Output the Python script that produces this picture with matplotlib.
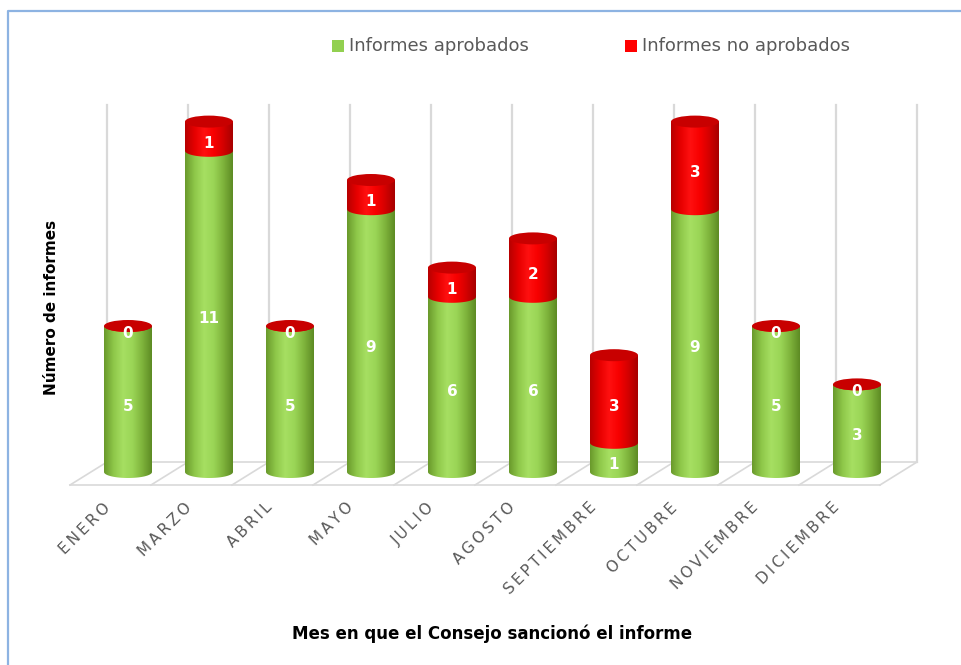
import numpy as np
import matplotlib
matplotlib.use('Agg')
import matplotlib.pyplot as plt
from matplotlib.path import Path
from matplotlib.patches import PathPatch, Ellipse, Rectangle

# Informes sancionados por el Consejo, por mes
meses = ['ENERO', 'MARZO', 'ABRIL', 'MAYO', 'JULIO', 'AGOSTO',
         'SEPTIEMBRE', 'OCTUBRE', 'NOVIEMBRE', 'DICIEMBRE']
aprobados = [5, 11, 5, 9, 6, 6, 1, 9, 5, 3]
no_aprobados = [0, 1, 0, 1, 1, 2, 3, 3, 0, 0]

serie_labels = ['Informes aprobados', 'Informes no aprobados']
ylabel = 'Número de informes'
xlabel = 'Mes en que el Consejo sancionó el informe'

# pixel geometry of the 3D look (1 category = 81 px, 1 informe = 29.2 px)
PX_X, PX_Y = 81.0, 29.2
X0_PX, Y0_PX = 128.0, 472.0
W, H = 961, 665


def ux(p):
    return (p - X0_PX) / PX_X


def uy(q):
    return (Y0_PX - q) / PX_Y


bar_w = 48 / PX_X
ell_h = 12 / PX_Y

green_grad = ['#6a9a2c', '#8fc84a', '#a6df62', '#9ad556', '#7fb43c', '#5e8c24']
red_grad = ['#b80000', '#e60000', '#ff1010', '#f80000', '#d40000', '#a80000']

fig = plt.figure(figsize=(W / 100, H / 100), dpi=100)
ax = fig.add_axes([0, 0, 1, 1])
ax.set_xlim(ux(0), ux(W))
ax.set_ylim(uy(H), uy(0))
ax.axis('off')

# frame of the chart area
ax.plot([ux(8), ux(8), ux(W + 5)], [uy(H + 5), uy(11), uy(11)],
        color='#8db3e2', lw=1.6, solid_capstyle='butt', zorder=1)

# floor and back-wall grid
grid_c = '#d9d9d9'
n = len(meses)
back_x = [ux(107) + k for k in range(n + 1)]
front_x = [ux(70) + k for k in range(n + 1)]
yf, yb, ytop = uy(485), uy(462), uy(105)
ax.plot([front_x[0], front_x[-1]], [yf, yf], color=grid_c, lw=1.2, zorder=2)
ax.plot([back_x[0], back_x[-1]], [yb, yb], color=grid_c, lw=1.2, zorder=2)
for fx, bx in zip(front_x, back_x):
    ax.plot([fx, bx], [yf, yb], color=grid_c, lw=1.2, zorder=2)
    ax.plot([bx, bx], [yb, ytop], color=grid_c, lw=1.6, zorder=2)


def cylinder_side(xc, y0, y1, colors, z):
    t = np.linspace(np.pi, 2 * np.pi, 40)
    verts = [(xc - bar_w / 2, y1), (xc - bar_w / 2, y0)]
    verts += [(xc + bar_w / 2 * np.cos(a), y0 + ell_h / 2 * np.sin(a)) for a in t]
    verts += [(xc + bar_w / 2, y1), (xc - bar_w / 2, y1)]
    codes = [Path.MOVETO] + [Path.LINETO] * (len(verts) - 2) + [Path.CLOSEPOLY]
    patch = PathPatch(Path(verts, codes), facecolor='none', edgecolor='none')
    ax.add_patch(patch)
    rgb = np.array([matplotlib.colors.to_rgb(c) for c in colors])
    xs = np.linspace(0, 1, 60)
    cols = np.stack([np.interp(xs, np.linspace(0, 1, len(colors)), rgb[:, i])
                     for i in range(3)], axis=-1)[None, :, :]
    im = ax.imshow(cols, extent=[xc - bar_w / 2, xc + bar_w / 2, y0 - ell_h / 2 - 0.05, y1],
                   aspect='auto', interpolation='bilinear', zorder=z)
    im.set_clip_path(patch)


for i, (a, r) in enumerate(zip(aprobados, no_aprobados)):
    cylinder_side(i, 0, a, green_grad, 5)
    cylinder_side(i, a, a + r, red_grad, 6)
    ax.add_patch(Ellipse((i, a + r), bar_w, ell_h, facecolor='#c80000',
                         edgecolor='none', zorder=7))
    lab = dict(color='white', fontsize=11, fontweight='bold', ha='center',
               va='center', zorder=8)
    ax.text(i, a / 2 - 0.25, str(a), **lab)
    if r > 0:
        ax.text(i, a + r / 2 - 0.25, str(r), **lab)
    else:
        ax.text(i, a - 0.25, str(r), **lab)
    ax.text(i - 0.18, uy(500), '\u2009'.join(meses[i]), rotation=45, ha='right',
            va='top', fontsize=11, color='#595959')

ax.set_xlim(ux(0), ux(W))
ax.set_ylim(uy(H), uy(0))

# legend
for xp, c, t in zip([332, 625], ['#92d050', '#ff0000'], serie_labels):
    ax.add_patch(Rectangle((ux(xp), uy(52)), 12 / PX_X, 12 / PX_Y,
                           facecolor=c, edgecolor='none'))
    ax.text(ux(xp + 17), uy(46), t, fontsize=13, color='#595959',
            ha='left', va='center')

ax.text(ux(52), uy(307), ylabel, rotation=90, ha='center', va='center',
        fontsize=11, fontweight='bold', color='black')
ax.text(ux(492), uy(634), xlabel, ha='center', va='center',
        fontsize=12, fontweight='bold', color='black')

plt.savefig('out.png', dpi=100)
plt.close()
